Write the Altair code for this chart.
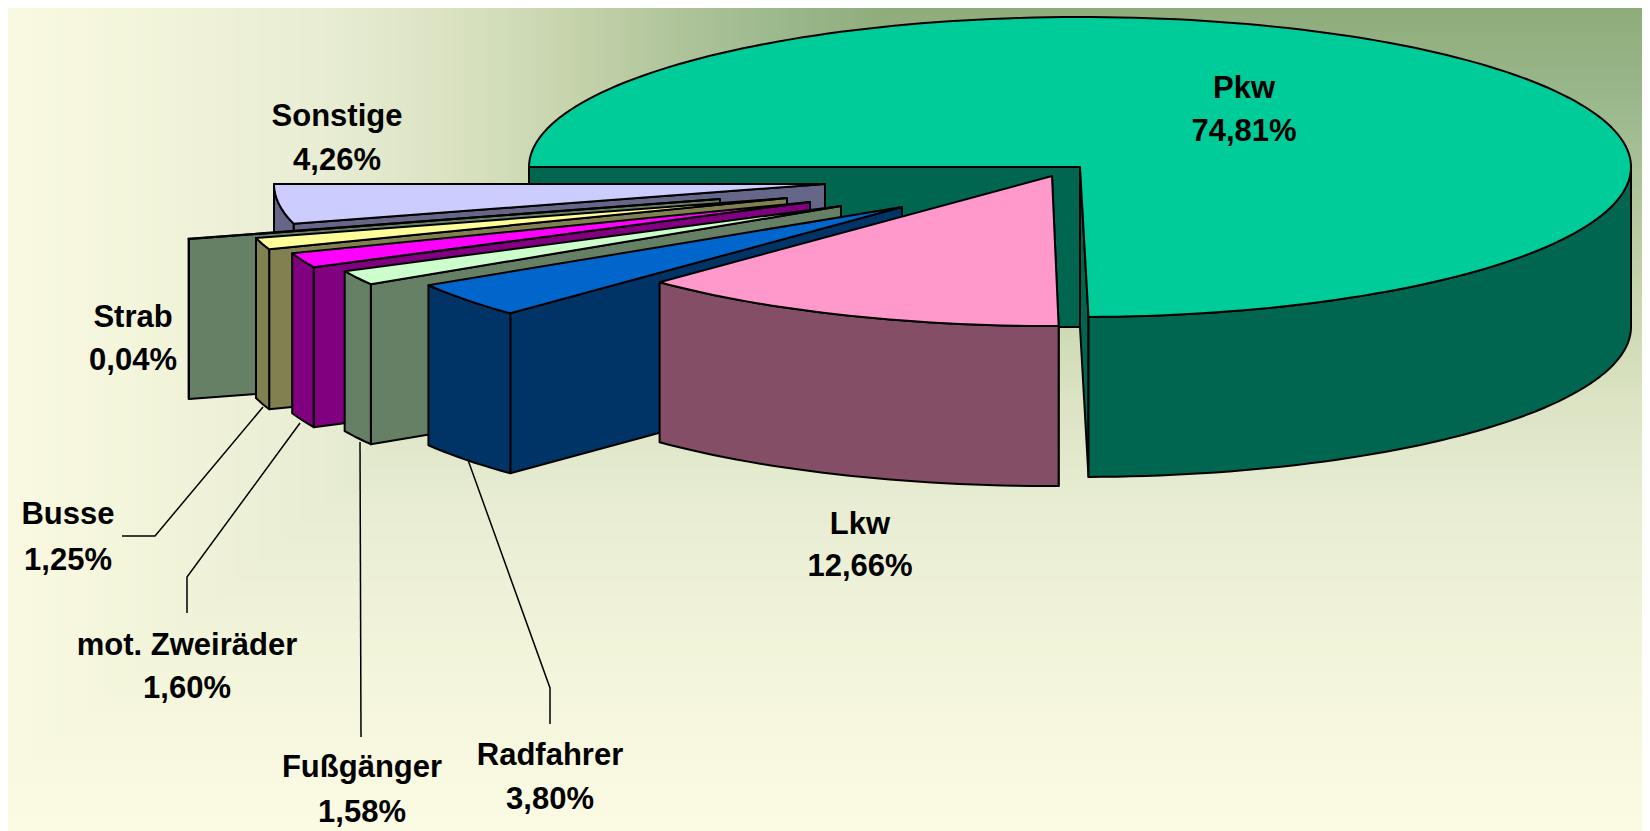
import math
import altair as alt

# ---- chart values ----
categories = ["Pkw", "Lkw", "Radfahrer", "Fußgänger", "mot. Zweiräder", "Busse", "Strab", "Sonstige"]
shares = [74.81, 12.66, 3.80, 1.58, 1.60, 1.25, 0.04, 4.26]
top_colors = ["#00cc99", "#ff99cc", "#0066cc", "#ccffcc", "#ff00ff", "#ffff99", "#ccffcc", "#ccccff"]
wall_colors = ["#006650", "#834e66", "#003366", "#668066", "#800080", "#808050", "#668066", "#666688"]

# ---- layout of the exploded 3D pie (page pixels) ----
apex_x = [1080, 1052, 902, 841, 810, 787, 720, 825]
apex_y = [167, 176, 207, 206, 202, 198, 199, 184]
radius_x = [551, 556, 555, 551, 551, 551, 551, 551]
draw_order = [0, 7, 6, 5, 4, 3, 2, 1]
RY, DEPTH = 150, 160
START_ANGLE = 270
PKW_END_TWEAK = -0.2
MARGIN = 8

label_x = [1244, 860, 550, 362, 187, 68, 133, 337]
label_y_name = [89, 525, 756, 768, 646, 515, 318, 117]
label_y_value = [132, 567, 800, 813, 689, 561, 361, 161]

leader_lines = {
    "Busse": ([263, 155, 122], [407, 536, 536]),
    "mot. Zweiräder": ([300, 187, 187], [423, 577, 613]),
    "Fußgänger": ([360, 361], [442, 737]),
    "Radfahrer": ([468, 550, 550], [460, 688, 724]),
}

# background: rectangular gradient spreading out of the top edge
bg_t = [0.0, 0.12, 0.24, 0.36, 0.48, 0.60, 0.80, 1.0]
bg_rgb = [(0x8d, 0xab, 0x78), (0x9a, 0xb7, 0x8c), (0xb0, 0xc4, 0x9a), (0xc8, 0xd5, 0xae),
          (0xdb, 0xe3, 0xc2), (0xe7, 0xec, 0xd2), (0xf3, 0xf5, 0xdb), (0xfb, 0xfb, 0xe3)]


def bg_color(t):
    for i in range(len(bg_t) - 1):
        if t <= bg_t[i + 1]:
            f = (t - bg_t[i]) / (bg_t[i + 1] - bg_t[i])
            c = [round(a + (b - a) * f) for a, b in zip(bg_rgb[i], bg_rgb[i + 1])]
            return "#%02x%02x%02x" % tuple(c)
    return "#%02x%02x%02x" % bg_rgb[-1]


PLOT_W = 1650 - 2 * MARGIN
PLOT_H = 831 - MARGIN

bands = []
N = 160
for k in range(N, -1, -1):
    t = k / N
    x0 = 900 - 950 * t
    y1 = 831 * t
    if k == N:
        x0, y1 = 0, 831
    bands.append({"x": max(0, x0 - MARGIN), "x2": PLOT_W,
                  "y": 0, "y2": max(1, y1 - MARGIN), "c": bg_color(t)})


def rim(ax, ay, rx, theta):
    r = math.radians(theta)
    return [ax + rx * math.sin(r), ay - RY * math.cos(r)]


def arc(ax, ay, rx, a, b):
    n = max(2, int(abs(b - a) / 1.5) + 1)
    return [rim(ax, ay, rx, a + (b - a) * i / n) for i in range(n + 1)]


def down(p):
    return [p[0], p[1] + DEPTH]


def feature(points, fill):
    ring = [[p[0] - MARGIN, p[1] - MARGIN] for p in points]
    ring.append(ring[0])
    return {"type": "Feature", "properties": {"fill": fill},
            "geometry": {"type": "Polygon", "coordinates": [ring]}}


angles = []
a = START_ANGLE
for s in shares:
    angles.append((a, a + s * 3.6))
    a += s * 3.6

features = []
for i in draw_order:
    ax, ay, rx = apex_x[i], apex_y[i], radius_x[i]
    t0, t1 = angles[i]
    top, wall = top_colors[i], wall_colors[i]
    apex = [ax, ay]
    if i == 0:
        t1 += PKW_END_TWEAK
        first = rim(ax, ay, rx, t0)
        last = rim(ax, ay, rx, t1)
        features.append(feature([first, apex, down(apex), down(first)], wall))
        features.append(feature([apex, last, down(last), down(apex)], wall))
        outer = arc(ax, ay, rx, 450, t1)
        features.append(feature(outer + [down(p) for p in reversed(outer)], wall))
        features.append(feature([apex] + arc(ax, ay, rx, t0, t1), top))
    else:
        curve = arc(ax, ay, rx, t0, t1)
        features.append(feature([curve[0], apex, down(apex), down(curve[0])], wall))
        features.append(feature(curve + [down(p) for p in reversed(curve)], wall))
        features.append(feature([apex] + curve, top))

line_rows = []
for name, (xs, ys) in leader_lines.items():
    for j, (x, y) in enumerate(zip(xs, ys)):
        line_rows.append({"name": name, "j": j, "x": x - MARGIN, "y": y - MARGIN})

text_rows = []
for i, name in enumerate(categories):
    value = f"{shares[i]:.2f}".replace(".", ",") + "%"
    text_rows.append({"t": name, "x": label_x[i] - MARGIN, "y": label_y_name[i] - MARGIN})
    text_rows.append({"t": value, "x": label_x[i] - MARGIN, "y": label_y_value[i] - MARGIN})

px = lambda f: alt.X(f, scale=None, axis=None)
py = lambda f: alt.Y(f, scale=None, axis=None)

background = alt.Chart(alt.Data(values=bands)).mark_rect(strokeWidth=0).encode(
    x=px("x:Q"), x2=alt.X2("x2:Q"), y=py("y:Q"), y2=alt.Y2("y2:Q"),
    fill=alt.Fill("c:N", scale=None, legend=None),
)

pie = alt.Chart(alt.Data(values=features)).mark_geoshape(
    stroke="#000000", strokeWidth=2, strokeJoin="round"
).encode(
    fill=alt.Fill("properties.fill:N", scale=None, legend=None)
).project(type="identity", scale=1, translate=[0, 0])

lines = alt.Chart(alt.Data(values=line_rows)).mark_line(
    color="#000000", strokeWidth=1.5
).encode(x=px("x:Q"), y=py("y:Q"), detail="name:N", order="j:Q")

texts = alt.Chart(alt.Data(values=text_rows)).mark_text(
    font="Liberation Sans", fontWeight="bold", fontSize=31, color="#000000",
    align="center", baseline="middle"
).encode(x=px("x:Q"), y=py("y:Q"), text="t:N")

chart = alt.layer(background, pie, lines, texts).properties(
    width=PLOT_W, height=PLOT_H, padding=0,
    autosize=alt.AutoSizeParams(type="none")
).configure_view(stroke=None)

chart.save("out.html", embed_options={"renderer": "svg", "actions": False})
